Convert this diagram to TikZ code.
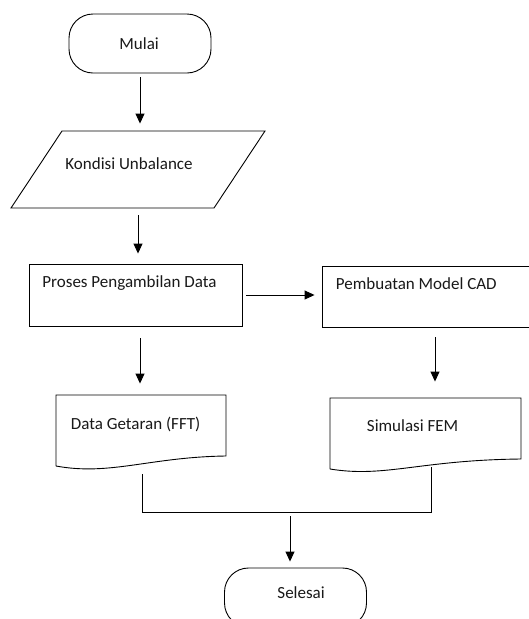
\documentclass[tikz,border=0pt]{standalone}
\usepackage{fontspec}
\setmainfont{Carlito}
\usetikzlibrary{arrows.meta,calc}
\begin{document}
\begin{tikzpicture}[x=1pt,y=-1pt,
  line width=0.9pt,
  shape line/.style={draw=black, line width=0.9pt},
  term/.style={shape line, rectangle, rounded corners=24pt, minimum width=142pt, minimum height=59pt, inner sep=0pt},
  procbox/.style={shape line, rectangle, inner sep=0pt},
  area/.style={rectangle, inner sep=0pt},
  lbl/.style={anchor=base west, inner sep=0pt, font=\fontsize{17}{20}\selectfont, text=black!90},
  arr/.style={draw=black, line width=0.9pt, -{Triangle[length=10pt,width=9pt]}},
  link/.style={draw=black, line width=0.9pt}]
\useasboundingbox (0,0) rectangle (528,619);
\fill[white] (0,0) rectangle (528,619);

% terminators
\node[term] (mulai) at (140,43.5) {};
\node[lbl] (tmulai) at (119,49) {Mulai};
\node[term] (sel) at (295.5,597.5) {};
\node[lbl] (tsel) at (277,598) {Selesai};

% input parallelogram
\draw[shape line] (62,131) -- (265,131) -- (214,208) -- (11,208) -- cycle;
\node[area, minimum width=203pt, minimum height=77pt] (kond) at (138,169.5) {};
\node[lbl] (tkond) at (65,169) {Kondisi Unbalance};

% process boxes
\node[procbox, minimum width=213pt, minimum height=62pt] (p1) at (135.5,295) {};
\node[lbl] (tp1) at (42,287) {Proses Pengambilan Data};
\node[procbox, minimum width=210pt, minimum height=61pt] (p2) at (427,296.5) {};
\node[lbl] (tp2) at (335.5,289) {Pembuatan Model CAD};

% documents
\node[area, minimum width=170pt, minimum height=71pt] (d1) at (141,430.5) {};
\draw[shape line] (56,466) -- (56,395) -- (226,395) -- (226,456)
  .. controls (150,457) and (110,476) .. (56,466);
\node[lbl] (td1) at (70.5,429) {Data Getaran (FFT)};
\node[area, minimum width=191pt, minimum height=71pt] (d2) at (425.5,433.5) {};
\draw[shape line] (330,469) -- (330,398) -- (521,398) -- (521,459)
  .. controls (420,460) and (385,478) .. (330,469);
\node[lbl] (td2) at (366.5,431.5) {Simulasi FEM};

% merge coordinates
\coordinate (d1b) at (142,474);
\coordinate (d2b) at (431,467);
\coordinate (mrg) at (290,512);

% connectors
\draw[arr, shorten <=4pt, shorten >=7pt] (mulai.south) -- (mulai.south |- kond.north);
\draw[arr, shorten <=7pt, shorten >=10pt] (kond.south) -- (kond.south |- p1.north);
\draw[arr, shorten <=4pt, shorten >=7pt] (p1.east) -- (p1.east -| p2.west);
\draw[arr, shorten <=12pt, shorten >=11pt] (p1.south -| mulai.south) -- (d1.north -| mulai.south);
\draw[arr, shorten <=10pt, shorten >=16pt] ([xshift=8pt]p2.south) -- ([xshift=8pt]p2.south |- d2.north);
\draw[link] (d1b) -- (d1b |- mrg) -- (d2b |- mrg) -- (d2b);
\draw[arr, shorten <=4pt, shorten >=6pt] (mrg) -- (mrg |- sel.north);
\end{tikzpicture}
\end{document}
